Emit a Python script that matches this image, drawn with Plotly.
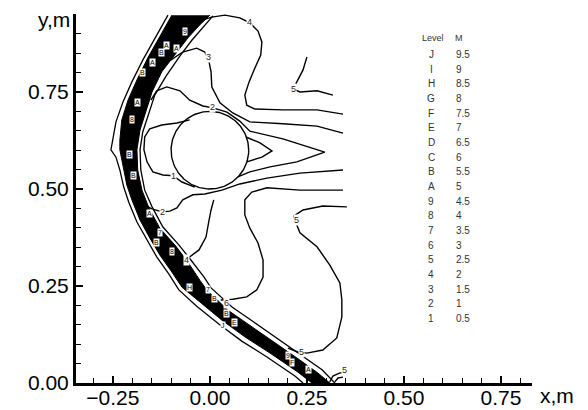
import numpy as np
import plotly.graph_objects as go

# ---------------- data (metres) ----------------
cyl_x0, cyl_y0, cyl_r = 0.0, 0.6, 0.1

# shock band (dense contours J..A merged) : outer and inner edges
band_outer_x = [-0.098, -0.129, -0.160, -0.188, -0.211, -0.227, -0.232, -0.232, -0.224, -0.214, -0.201, -0.180,
                -0.155, -0.129, -0.098, -0.072, -0.026, 0.031, 0.090, 0.155, 0.227, 0.263]
band_outer_y = [0.948, 0.892, 0.838, 0.781, 0.729, 0.678, 0.626, 0.601, 0.562, 0.510, 0.472, 0.420,
                0.374, 0.330, 0.286, 0.247, 0.209, 0.162, 0.119, 0.077, 0.028, 0.0]
band_inner_x = [0.000, -0.026, -0.057, -0.085, -0.124, -0.149, -0.162, -0.180, -0.188, -0.186, -0.175, -0.157,
                -0.129, -0.088, -0.057, -0.026, -0.008, 0.046, 0.103, 0.168, 0.232, 0.278, 0.309]
band_inner_y = [0.948, 0.923, 0.889, 0.853, 0.802, 0.750, 0.709, 0.652, 0.601, 0.549, 0.497, 0.451,
                0.399, 0.353, 0.312, 0.265, 0.240, 0.188, 0.149, 0.103, 0.059, 0.026, 0.0]
shock_front_x = [-0.108, -0.139, -0.173, -0.201, -0.224, -0.242, -0.250, -0.255, -0.242, -0.232, -0.222, -0.209,
                 -0.188, -0.162, -0.137, -0.106, -0.080, -0.034, 0.023, 0.082, 0.147, 0.219, 0.240]
shock_front_y = [0.948, 0.892, 0.832, 0.776, 0.724, 0.673, 0.626, 0.601, 0.582, 0.549, 0.505, 0.466,
                 0.415, 0.369, 0.325, 0.281, 0.240, 0.198, 0.152, 0.108, 0.067, 0.018, 0.0]
shock_back_x = [0.008, -0.018, -0.046, -0.077, -0.113, -0.142, -0.155, -0.173, -0.180, -0.178, -0.168, -0.149,
                -0.121, -0.080, -0.049, -0.015, 0.003, 0.057, 0.113, 0.178, 0.242, 0.289, 0.322]
shock_back_y = [0.946, 0.915, 0.884, 0.843, 0.791, 0.742, 0.701, 0.647, 0.601, 0.549, 0.497, 0.454,
                0.402, 0.356, 0.317, 0.273, 0.245, 0.196, 0.157, 0.111, 0.067, 0.034, 0.0]

# individual contour lines
c4_upper_x = [-0.018, 0.005, 0.039, 0.077, 0.103, 0.124, 0.134, 0.131, 0.116, 0.101, 0.090, 0.095, 0.116, 0.188, 0.276, 0.343]
c4_upper_y = [0.936, 0.943, 0.948, 0.941, 0.928, 0.907, 0.879, 0.845, 0.812, 0.776, 0.742, 0.716, 0.706, 0.704, 0.704, 0.693]
c3_upper_x = [-0.101, -0.070, -0.034, -0.013, -0.003, 0.003, 0.005, 0.026, 0.059, 0.103, 0.188, 0.276, 0.343]
c3_upper_y = [0.832, 0.853, 0.863, 0.853, 0.832, 0.802, 0.763, 0.722, 0.696, 0.673, 0.668, 0.662, 0.644]
c2_upper_x = [-0.152, -0.137, -0.111, -0.077, -0.052, -0.018, 0.008, 0.044, 0.077, 0.103, 0.188, 0.296, 0.224, 0.155, 0.103, 0.072]
c2_upper_y = [0.729, 0.753, 0.763, 0.753, 0.729, 0.714, 0.709, 0.698, 0.675, 0.649, 0.629, 0.595, 0.570, 0.557, 0.544, 0.531]
c2_lower_x = [0.343, 0.232, 0.147, 0.077, 0.031, -0.013, -0.044, -0.070, -0.085, -0.103, -0.121, -0.149, -0.162]
c2_lower_y = [0.549, 0.541, 0.528, 0.513, 0.497, 0.487, 0.485, 0.472, 0.451, 0.443, 0.441, 0.448, 0.456]
c1_front_x = [-0.052, -0.085, -0.124, -0.155, -0.168, -0.170, -0.162, -0.147, -0.121, -0.095, -0.072, -0.039]
c1_front_y = [0.678, 0.670, 0.665, 0.655, 0.634, 0.601, 0.570, 0.544, 0.536, 0.534, 0.518, 0.505]
c1_wake_x = [0.093, 0.129, 0.160, 0.134, 0.095]
c1_wake_y = [0.634, 0.619, 0.598, 0.582, 0.570]
c4_lower_x = [0.010, 0.003, -0.003, -0.010, -0.028, -0.052, -0.070]
c4_lower_y = [0.472, 0.446, 0.415, 0.376, 0.343, 0.325, 0.320]
c6_loop_x = [0.343, 0.232, 0.147, 0.108, 0.090, 0.090, 0.103, 0.124, 0.137, 0.137, 0.121, 0.095, 0.059, 0.028]
c6_loop_y = [0.497, 0.497, 0.503, 0.492, 0.472, 0.433, 0.399, 0.361, 0.317, 0.273, 0.240, 0.222, 0.216, 0.214]
c5_big_x = [0.353, 0.291, 0.240, 0.216, 0.224, 0.232, 0.276, 0.309, 0.335, 0.340, 0.340, 0.327, 0.291, 0.250, 0.227, 0.201]
c5_big_y = [0.454, 0.456, 0.446, 0.430, 0.407, 0.387, 0.351, 0.304, 0.258, 0.214, 0.170, 0.116, 0.085, 0.077, 0.080, 0.090]
c5_upper_x = [0.250, 0.240, 0.224, 0.214, 0.232, 0.276, 0.317]
c5_upper_y = [0.840, 0.807, 0.776, 0.758, 0.750, 0.753, 0.742]
c5_arc1_x = [0.309, 0.317, 0.335, 0.351]
c5_arc1_y = [0.003, 0.018, 0.026, 0.026]
c5_arc2_x = [0.322, 0.330, 0.343]
c5_arc2_y = [0.003, 0.013, 0.015]

# contour labels
lbl_x = [0.103, -0.003, 0.008, -0.095, -0.121, 0.216, 0.224, -0.059, 0.044, 0.235, 0.348]
lbl_y = [0.930, 0.840, 0.711, 0.534, 0.441, 0.758, 0.420, 0.317, 0.206, 0.080, 0.034]
lbl_t = ["4", "3", "2", "1", "2", "5", "5", "4", "6", "5", "5"]

# labels inside the shock band
band_lbl_x = [-0.064, -0.111, -0.085, -0.124, -0.147, -0.173, -0.186, -0.201, -0.206, -0.198, -0.155, -0.129,
              -0.137, -0.098, -0.052, -0.005, 0.013, 0.044, 0.064, 0.034, 0.201, 0.211, 0.253]
band_lbl_y = [0.905, 0.871, 0.863, 0.853, 0.825, 0.799, 0.722, 0.678, 0.588, 0.536, 0.438, 0.389,
              0.363, 0.338, 0.245, 0.240, 0.219, 0.180, 0.155, 0.149, 0.072, 0.052, 0.034]
band_lbl_t = ["9", "A", "A", "B", "A", "B", "A", "8", "B", "B", "A", "7",
              "B", "8", "H", "7", "B", "B", "E", "J", "9", "F", "A"]

# level table
level_codes = ["J", "I", "H", "G", "F", "E", "D", "C", "B", "A", "9", "8", "7", "6", "5", "4", "3", "2", "1"]
level_values = [9.5, 9, 8.5, 8, 7.5, 7, 6.5, 6, 5.5, 5, 4.5, 4, 3.5, 3, 2.5, 2, 1.5, 1, 0.5]

x_ticks = [-0.25, 0.0, 0.25, 0.5, 0.75]
y_ticks = [0.0, 0.25, 0.5, 0.75]

# ---------------- figure ----------------
fig = go.Figure()

# shock band fill
fig.add_trace(go.Scatter(x=band_outer_x + band_inner_x[::-1], y=band_outer_y + band_inner_y[::-1],
                         mode="lines", fill="toself", fillcolor="black",
                         line=dict(color="black", width=1), hoverinfo="skip", showlegend=False))
for xs, ys in [(shock_front_x, shock_front_y), (shock_back_x, shock_back_y)]:
    fig.add_trace(go.Scatter(x=xs, y=ys, mode="lines", line=dict(color="black", width=1.3),
                             hoverinfo="skip", showlegend=False))

lines = [(c4_upper_x, c4_upper_y), (c3_upper_x, c3_upper_y), (c2_upper_x, c2_upper_y),
         (c2_lower_x, c2_lower_y), (c1_front_x, c1_front_y), (c1_wake_x, c1_wake_y),
         (c4_lower_x, c4_lower_y), (c6_loop_x, c6_loop_y), (c5_big_x, c5_big_y),
         (c5_upper_x, c5_upper_y), (c5_arc1_x, c5_arc1_y), (c5_arc2_x, c5_arc2_y)]
for xs, ys in lines:
    fig.add_trace(go.Scatter(x=xs, y=ys, mode="lines", line=dict(color="black", width=1.4),
                             hoverinfo="skip", showlegend=False))

# cylinder
th = np.linspace(0, 2 * np.pi, 200)
fig.add_trace(go.Scatter(x=cyl_x0 + cyl_r * np.cos(th), y=cyl_y0 + cyl_r * np.sin(th), mode="lines",
                         line=dict(color="black", width=1.4), hoverinfo="skip", showlegend=False))

FONT = "Liberation Sans, Arial"
ann = []
for x, y, t in zip(lbl_x, lbl_y, lbl_t):
    ann.append(dict(x=x, y=y, xref="x", yref="y", text=t, showarrow=False, bgcolor="white",
                    borderpad=0, font=dict(size=9, color="#222", family=FONT)))
for x, y, t in zip(band_lbl_x, band_lbl_y, band_lbl_t):
    ann.append(dict(x=x, y=y, xref="x", yref="y", text=t, showarrow=False, bgcolor="white",
                    borderpad=0, font=dict(size=7, color="black", family=FONT)))

# level table
tab_y0, tab_dy = 0.847, 0.0378
ann.append(dict(x=0.575, y=0.889, xref="x", yref="y", text="Level", showarrow=False,
                font=dict(size=9, color="#333", family=FONT)))
ann.append(dict(x=0.626, y=0.889, xref="x", yref="y", text="M", showarrow=False, xanchor="left",
                font=dict(size=9, color="#333", family=FONT)))
for i, (c, v) in enumerate(zip(level_codes, level_values)):
    yy = tab_y0 - i * tab_dy
    ann.append(dict(x=0.570, y=yy, xref="x", yref="y", text=c, showarrow=False,
                    font=dict(size=10, color="#333", family=FONT)))
    ann.append(dict(x=0.629, y=yy, xref="x", yref="y", text=f"{v:g}", showarrow=False, xanchor="left",
                    font=dict(size=10, color="#333", family=FONT)))

# axis titles
ann.append(dict(x=-0.009, y=0.984, xref="paper", yref="paper", text="y,m", showarrow=False,
                xanchor="right", yanchor="middle", font=dict(size=21, color="black", family=FONT)))
ann.append(dict(x=1.013, y=-0.035, xref="paper", yref="paper", text="x,m", showarrow=False,
                xanchor="left", yanchor="middle", font=dict(size=21, color="black", family=FONT)))

axis_common = dict(showgrid=False, zeroline=False, showline=True, linecolor="black", linewidth=3,
                   automargin=False,
                   ticks="inside", ticklen=7, tickwidth=1.5, tickcolor="black", tickformat=".2f",
                   tickfont=dict(size=21, color="black", family=FONT),
                   minor=dict(dtick=0.05, tick0=0, ticks="inside", ticklen=5, tickwidth=1.2, tickcolor="black"))

# page body has an 8 px margin, so the figure is 8 px smaller and the plot area keeps its place
fig.update_layout(
    width=580, height=402,
    margin=dict(l=68, r=56, t=6, b=27),
    paper_bgcolor="white", plot_bgcolor="white",
    showlegend=False,
    annotations=ann,
    xaxis=dict(range=[-0.345, 0.830], tickvals=x_ticks, ticklabelstandoff=-6, **axis_common),
    yaxis=dict(range=[0.0, 0.951], tickvals=y_ticks, **axis_common),
)

fig.write_html("out.html")
